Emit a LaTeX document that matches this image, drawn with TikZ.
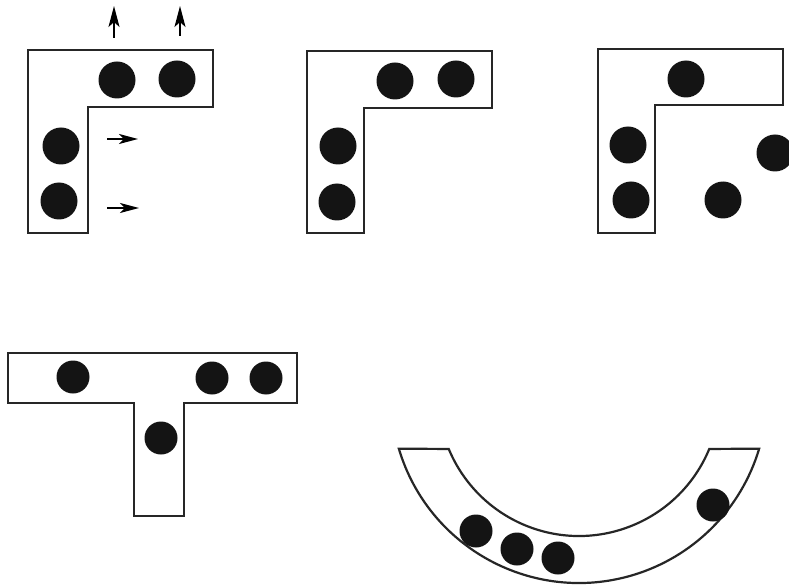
\documentclass[tikz,border=0pt]{standalone}
\usetikzlibrary{arrows.meta,calc}
\begin{document}
\begin{tikzpicture}[x=1pt,y=-1pt,
  wall/.style={draw=black!85,line width=2.2pt,line join=miter,fill=white},
  ball/.style={circle,fill=black!92,draw=none,minimum size=37pt,inner sep=0pt},
  sball/.style={circle,fill=black!92,draw=none,minimum size=33pt,inner sep=0pt},
  mvup/.style={line width=2pt,-{Stealth[length=21pt,width=11pt,inset=5pt]}},
  mvrt/.style={line width=2pt,-{Stealth[length=19pt,width=10pt,inset=5pt]}}]
\useasboundingbox (0,0) rectangle (789,585);
% panel 1
\draw[wall] (28,50) -- (213,50) -- (213,107) -- (88,107) -- (88,233) -- (28,233) -- cycle;
\node[ball] (a1) at (117,80) {};
\node[ball] (a2) at (177,79) {};
\node[ball] (a3) at (61,146) {};
\node[ball] (a4) at (59,201) {};
\coordinate (u1s) at (114,38); \coordinate (u1e) at (114,6);
\coordinate (u2s) at (180,36); \coordinate (u2e) at (180,6);
\coordinate (r1s) at (107,139); \coordinate (r1e) at (138,139);
\coordinate (r2s) at (107,208); \coordinate (r2e) at (139,208);
\draw[mvup] (u1s) -- (u1e);
\draw[mvup] (u2s) -- (u2e);
\draw[mvrt] (r1s) -- (r1e);
\draw[mvrt] (r2s) -- (r2e);
% panel 2
\draw[wall] (307,51) -- (492,51) -- (492,108) -- (364,108) -- (364,233) -- (307,233) -- cycle;
\node[ball] (b1) at (395,81) {};
\node[ball] (b2) at (456,79) {};
\node[ball] (b3) at (338,146) {};
\node[ball] (b4) at (337,202) {};
% panel 3
\draw[wall] (598,49) -- (783,49) -- (783,105) -- (655,105) -- (655,233) -- (598,233) -- cycle;
\node[ball] (c1) at (686,79) {};
\node[ball] (c2) at (628,145) {};
\node[ball] (c3) at (631,200) {};
\node[ball] (c4) at (723,200) {};
\node[ball] (c5) at (775,153) {};
% panel 4 (T)
\draw[wall] (8,353) -- (297,353) -- (297,403) -- (184,403) -- (184,516) -- (134,516) -- (134,403) -- (8,403) -- cycle;
\node[sball] (d1) at (73,377) {};
\node[sball] (d2) at (212,378) {};
\node[sball] (d3) at (266,378) {};
\node[sball] (d4) at (161,438) {};
% panel 5 (arc)
\coordinate (ctr) at (579,395);
\draw[wall] ($(ctr)+(163.4:188)$) arc[start angle=163.4, end angle=16.6, radius=188]
  -- ($(ctr)+(22.5:141)$) arc[start angle=22.5, end angle=157.5, radius=141] -- cycle;
\node[sball] (e1) at (476,531) {};
\node[sball] (e2) at (517,549) {};
\node[sball] (e3) at (558,558) {};
\node[sball] (e4) at (713,505) {};
\end{tikzpicture}
\end{document}
